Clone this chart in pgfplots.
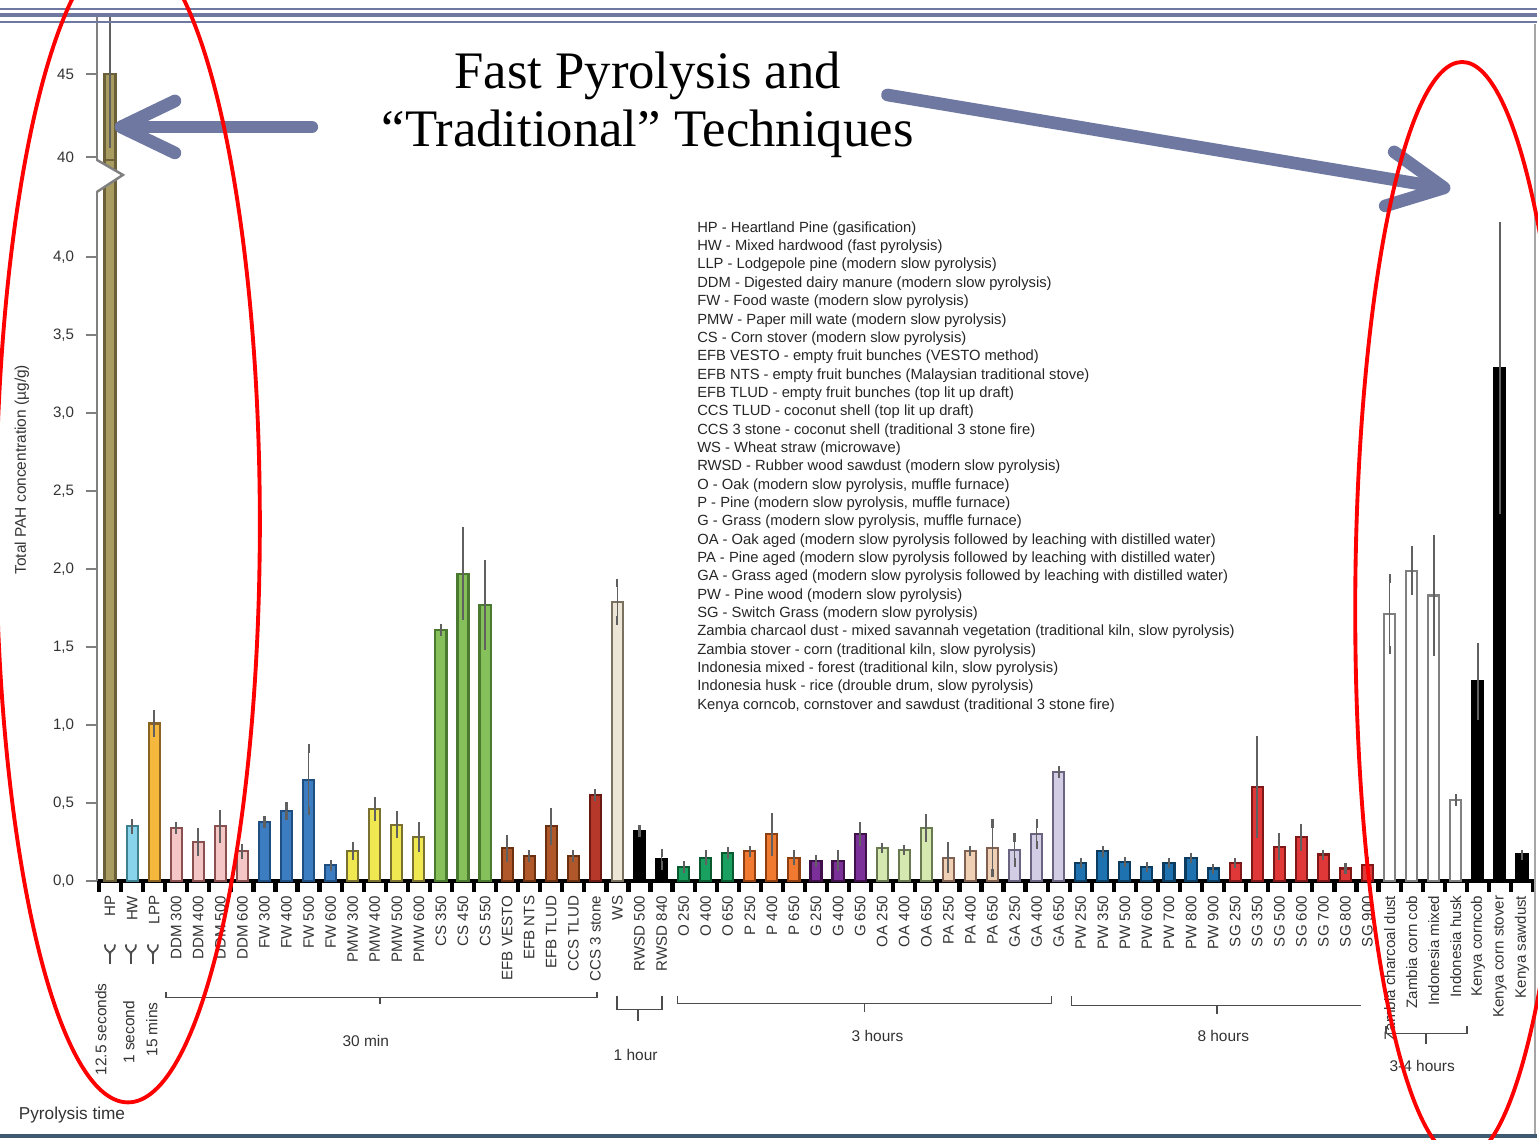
\documentclass[border=0pt]{standalone}
\usepackage{pgfplots}
\pgfplotsset{compat=1.18}
\usepackage{fontspec}
\setmainfont{Liberation Sans}
\newfontfamily\titlefont{Liberation Serif}
\definecolor{arrowcol}{HTML}{6E78A0}
\definecolor{fHP}{HTML}{A89C60}\definecolor{dHP}{HTML}{6B6038}
\definecolor{fHW}{HTML}{88D4EA}\definecolor{dHW}{HTML}{3E7F90}
\definecolor{fLPP}{HTML}{F5B83D}\definecolor{dLPP}{HTML}{8A6420}
\definecolor{fDDM}{HTML}{F5C6C6}\definecolor{dDDM}{HTML}{8A5050}
\definecolor{fFW}{HTML}{3B7DC0}\definecolor{dFW}{HTML}{1F4F80}
\definecolor{fPMW}{HTML}{F0E850}\definecolor{dPMW}{HTML}{7A7030}
\definecolor{fCS}{HTML}{86C05A}\definecolor{dCS}{HTML}{4A7A30}
\definecolor{fEFB}{HTML}{B0582A}\definecolor{dEFB}{HTML}{6A3010}
\definecolor{fCCS}{HTML}{B5382A}\definecolor{dCCS}{HTML}{6A1A10}
\definecolor{fWS}{HTML}{EDE5D5}\definecolor{dWS}{HTML}{7A7060}
\definecolor{fO}{HTML}{1AA060}\definecolor{dO}{HTML}{0A5A30}
\definecolor{fP}{HTML}{F07A30}\definecolor{dP}{HTML}{904010}
\definecolor{fG}{HTML}{7A3098}\definecolor{dG}{HTML}{40104A}
\definecolor{fOA}{HTML}{D4E8B0}\definecolor{dOA}{HTML}{6A7A50}
\definecolor{fPA}{HTML}{F0D0B4}\definecolor{dPA}{HTML}{806050}
\definecolor{fGA}{HTML}{D2CCE4}\definecolor{dGA}{HTML}{6A6480}
\definecolor{fPW}{HTML}{1E72B0}\definecolor{dPW}{HTML}{0C3C60}
\definecolor{fSG}{HTML}{E03838}\definecolor{dSG}{HTML}{801818}
\definecolor{dZI}{HTML}{808080}
\definecolor{botline}{HTML}{3F5B73}
\pgfplotsset{
  barbase/.style={ybar, bar width=0.5, bar shift=0pt, line width=0.6pt,
    /pgfplots/error bars/y dir=both, /pgfplots/error bars/y explicit,
    /pgfplots/error bars/error bar style={gray!75!black, line width=0.5pt},
    /pgfplots/error bars/error mark options={gray!75!black, mark size=1.2pt, line width=0.6pt}},
  nobar/.style={ybar, bar width=0.5, bar shift=0pt, line width=0.6pt},
}
\begin{document}
\begin{tikzpicture}
\path[use as bounding box] (0,0) rectangle (15.38cm,-11.39cm);
% lower axis
\begin{axis}[
  at={(0.97cm,-8.81cm)}, anchor=south west, scale only axis,
  width=14.38cm, height=7.21cm,
  xmin=0.41, xmax=65.59, ymin=0, ymax=4.622,
  axis x line*=bottom, axis y line*=left,
  x axis line style={black, line width=1.2pt, -},
  y axis line style={gray, line width=0.7pt, -},
  /pgf/number format/assume math mode=true,
  ytick={0,0.5,1,1.5,2,2.5,3,3.5,4},
  yticklabel style={/pgf/number format/.cd, fixed, fixed zerofill, precision=1, use comma},
  ticklabel style={font=\fontsize{4.3}{5}\selectfont, text=black!80},
  ytick style={gray, line width=0.5pt},
  tick align=outside, major tick length=3pt,
  xtick={1,...,65},
  xtick style={draw=none},
  xticklabel style={rotate=90, anchor=east, inner sep=1pt},
  xticklabels={HP,HW,LPP,DDM 300,DDM 400,DDM 500,DDM 600,FW 300,FW 400,FW 500,FW 600,PMW 300,PMW 400,PMW 500,PMW 600,CS 350,CS 450,CS 550,EFB VESTO,EFB NTS,EFB TLUD,CCS TLUD,CCS 3 stone,WS,RWSD 500,RWSD 840,O 250,O 400,O 650,P 250,P 400,P 650,G 250,G 400,G 650,OA 250,OA 400,OA 650,PA 250,PA 400,PA 650,GA 250,GA 400,GA 650,PW 250,PW 350,PW 500,PW 600,PW 700,PW 800,PW 900,SG 250,SG 350,SG 500,SG 600,SG 700,SG 800,SG 900,Zambia charcoal dust,Zambia corn cob,Indonesia mixed,Indonesia husk,Kenya corncob,Kenya corn stover,Kenya sawdust},
  extra x ticks={0.5,1.5,...,65.5},
  extra x tick labels={},
  extra x tick style={xtick style={draw=black, line width=1.2pt}, major tick length=3pt},
]
\addplot[nobar, fill=fHP, draw=dHP] coordinates {(1,45)};
\addplot[barbase, fill=fHW, draw=dHW] coordinates {(2,0.35) +- (0,0.02)};
\addplot[barbase, fill=fLPP, draw=dLPP] coordinates {(3,1.01) +- (0,0.06)};
\addplot[barbase, fill=fDDM, draw=dDDM] coordinates {(4,0.34) +- (0,0.01) (5,0.25) +- (0,0.06) (6,0.35) +- (0,0.08) (7,0.19) +- (0,0.02)};
\addplot[barbase, fill=fFW, draw=dFW] coordinates {(8,0.38) +- (0,0.01) (9,0.45) +- (0,0.03) (10,0.65) +- (0,0.20) (11,0.10) +- (0,0.01)};
\addplot[barbase, fill=fPMW, draw=dPMW] coordinates {(12,0.19) +- (0,0.03) (13,0.46) +- (0,0.05) (14,0.36) +- (0,0.06) (15,0.28) +- (0,0.07)};
\addplot[barbase, fill=fCS, draw=dCS] coordinates {(16,1.61) +- (0,0.01) (17,1.97) +- (0,0.27) (18,1.77) +- (0,0.26)};
\addplot[barbase, fill=fEFB, draw=dEFB] coordinates {(19,0.21) +- (0,0.06) (20,0.16) +- (0,0.01) (21,0.35) +- (0,0.09) (22,0.16) +- (0,0.01)};
\addplot[barbase, fill=fCCS, draw=dCCS] coordinates {(23,0.55) +- (0,0.01)};
\addplot[barbase, fill=fWS, draw=dWS] coordinates {(24,1.79) +- (0,0.12)};
\addplot[barbase, fill=black, draw=black] coordinates {(25,0.32) +- (0,0.01) (26,0.14) +- (0,0.04)};
\addplot[barbase, fill=fO, draw=dO] coordinates {(27,0.09) +- (0,0.01) (28,0.15) +- (0,0.02) (29,0.18) +- (0,0.01)};
\addplot[barbase, fill=fP, draw=dP] coordinates {(30,0.19) +- (0,0.01) (31,0.30) +- (0,0.11) (32,0.15) +- (0,0.02)};
\addplot[barbase, fill=fG, draw=dG] coordinates {(33,0.13) +- (0,0.01) (34,0.13) +- (0,0.04) (35,0.30) +- (0,0.05)};
\addplot[barbase, fill=fOA, draw=dOA] coordinates {(36,0.21) +- (0,0.005) (37,0.20) +- (0,0.005) (38,0.34) +- (0,0.06)};
\addplot[barbase, fill=fPA, draw=dPA] coordinates {(39,0.15) +- (0,0.07) (40,0.19) +- (0,0.005) (41,0.21) +- (0,0.16)};
\addplot[barbase, fill=fGA, draw=dGA] coordinates {(42,0.20) +- (0,0.08) (43,0.30) +- (0,0.07) (44,0.70) +- (0,0.01)};
\addplot[barbase, fill=fPW, draw=dPW] coordinates {(45,0.115) +- (0,0.005) (46,0.19) +- (0,0.01) (47,0.12) +- (0,0.005) (48,0.09) +- (0,0.005) (49,0.115) +- (0,0.005) (50,0.15) +- (0,0.005) (51,0.08) +- (0,0.005)};
\addplot[barbase, fill=fSG, draw=dSG] coordinates {(52,0.115) +- (0,0.005) (53,0.60) +- (0,0.30) (54,0.22) +- (0,0.06) (55,0.28) +- (0,0.06) (56,0.17) +- (0,0.005) (57,0.08) +- (0,0.01) (58,0.10) +- (0,0.03)};
\addplot[barbase, fill=white, draw=dZI] coordinates {(59,1.71) +- (0,0.23) (60,1.99) +- (0,0.13) (61,1.83) +- (0,0.36) (62,0.52) +- (0,0.01)};
\addplot[barbase, fill=black, draw=black] coordinates {(63,1.28) +- (0,0.22) (64,3.29) +- (0,0.91) (65,0.17) +- (0,0.005)};
\end{axis}
% upper axis (broken part)
\begin{axis}[
  at={(0.97cm,-1.60cm)}, anchor=south west, scale only axis,
  width=14.38cm, height=1.46cm,
  xmin=0.41, xmax=65.59, ymin=39.82, ymax=48.61,
  axis x line=none, axis y line*=left,
  y axis line style={gray, line width=0.7pt, -},
  /pgf/number format/assume math mode=true,
  ytick={40,45},
  ticklabel style={font=\fontsize{4.3}{5}\selectfont, text=black!80},
  ytick style={gray, line width=0.5pt},
  tick align=outside, major tick length=3pt,
]
\addplot[barbase, fill=fHP, draw=dHP] coordinates {(1,45) += (0,3.4) -= (0,4.2)};
\end{axis}
\begin{scope}[x=0.01cm, y=-0.01cm]
% axis break
\fill[white] (94,161) rectangle (100,191);
\fill[white] (97,160) -- (123,175) -- (97,192) -- cycle;
\draw[gray, line width=0.7pt] (97,160) -- (123,175) -- (97,192);
% slide decorations
\draw[arrowcol, line width=0.6pt] (0,9) -- (1538,9);
\draw[arrowcol, line width=1.2pt] (0,15) -- (1538,15);
\draw[arrowcol, line width=0.7pt] (0,22) -- (1538,22);
\fill[botline] (0,1135) rectangle (1538,1139);
\draw[gray!70, line width=0.4pt] (1536,24) -- (1536,1135);
% brackets
\begin{scope}[draw=black!70, line width=0.5pt]
\foreach \x in {110,131,153} {
  \draw (\x-5,945) .. controls (\x-5,953) and (\x,950) .. (\x,955) .. controls (\x,950) and (\x+5,953) .. (\x+5,945);
  \draw (\x,953) -- (\x,965);
}
\draw (166,993) -- (166,998) -- (597,998) -- (597,993);
\draw (380,998) -- (380,1005);
\draw (617,997) -- (617,1010) -- (662,1010) -- (662,997);
\draw (638,1010) -- (638,1022);
\draw (678,997) -- (678,1004) -- (1052,1004) -- (1052,997);
\draw (865,1004) -- (865,1013);
\draw (1072,997) -- (1072,1006) -- (1362,1006);
\draw (1218,1006) -- (1218,1015);
\draw (1387,1027) -- (1387,1034) -- (1468,1034) -- (1468,1027);
\draw (1427,1034) -- (1427,1045);
\end{scope}
\begin{scope}[font=\fontsize{4.4}{5}\selectfont, text=black!80]
\node[rotate=90] at (101,1030) {12.5 seconds};
\node[rotate=90] at (129,1033) {1 second};
\node[rotate=90] at (152,1030) {15 mins};
\node at (366,1042) {30 min};
\node at (636,1056) {1 hour};
\node at (878,1037) {3 hours};
\node at (1224,1037) {8 hours};
\node at (1423,1067) {3-4 hours};
\node[rotate=90] at (22,470) {Total PAH concentration (µg/g)};
\end{scope}
\node[font=\fontsize{4.9}{6}\selectfont, text=black!80] at (72,1116) {Pyrolysis time};
% legend text
\node[anchor=north west, inner sep=0pt, align=left, font=\fontsize{4.2}{5.22}\selectfont, text=black!85] at (697,221) {%
HP - Heartland Pine (gasification)\\
HW - Mixed hardwood (fast pyrolysis)\\
LLP - Lodgepole pine (modern slow pyrolysis)\\
DDM - Digested dairy manure (modern slow pyrolysis)\\
FW - Food waste (modern slow pyrolysis)\\
PMW - Paper mill wate (modern slow pyrolysis)\\
CS - Corn stover (modern slow pyrolysis)\\
EFB VESTO - empty fruit bunches (VESTO method)\\
EFB NTS - empty fruit bunches (Malaysian traditional stove)\\
EFB TLUD - empty fruit bunches (top lit up draft)\\
CCS TLUD - coconut shell (top lit up draft)\\
CCS 3 stone - coconut shell (traditional 3 stone fire)\\
WS - Wheat straw (microwave)\\
RWSD - Rubber wood sawdust (modern slow pyrolysis)\\
O - Oak (modern slow pyrolysis, muffle furnace)\\
P - Pine (modern slow pyrolysis, muffle furnace)\\
G - Grass (modern slow pyrolysis, muffle furnace)\\
OA - Oak aged (modern slow pyrolysis followed by leaching with distilled water)\\
PA - Pine aged (modern slow pyrolysis followed by leaching with distilled water)\\
GA - Grass aged (modern slow pyrolysis followed by leaching with distilled water)\\
PW - Pine wood (modern slow pyrolysis)\\
SG - Switch Grass (modern slow pyrolysis)\\
Zambia charcaol dust - mixed savannah vegetation (traditional kiln, slow pyrolysis)\\
Zambia stover - corn (traditional kiln, slow pyrolysis)\\
Indonesia mixed - forest (traditional kiln, slow pyrolysis)\\
Indonesia husk - rice (drouble drum, slow pyrolysis)\\
Kenya corncob, cornstover and sawdust (traditional 3 stone fire)};
% title
\node[anchor=base, font=\titlefont\fontsize{15}{17}\selectfont] at (648,89) {Fast Pyrolysis and};
\node[anchor=base, font=\titlefont\fontsize{15}{17}\selectfont] at (648,147) {“Traditional” Techniques};
% arrows
\begin{scope}[arrowcol, line width=3.6pt, line cap=round, line join=round]
\draw (312,127) -- (128,127);
\draw (175,101) -- (121,127) -- (175,153);
\draw (888,95) -- (1438,187);
\draw (1386,206) -- (1445,188) -- (1395,152);
\end{scope}
% red ellipses
\draw[red, line width=1.1pt] (128,524) ellipse [x radius=132, y radius=579];
\draw[red, line width=1.1pt] (1463,611) ellipse [x radius=107, y radius=549];
\end{scope}
\end{tikzpicture}
\end{document}
